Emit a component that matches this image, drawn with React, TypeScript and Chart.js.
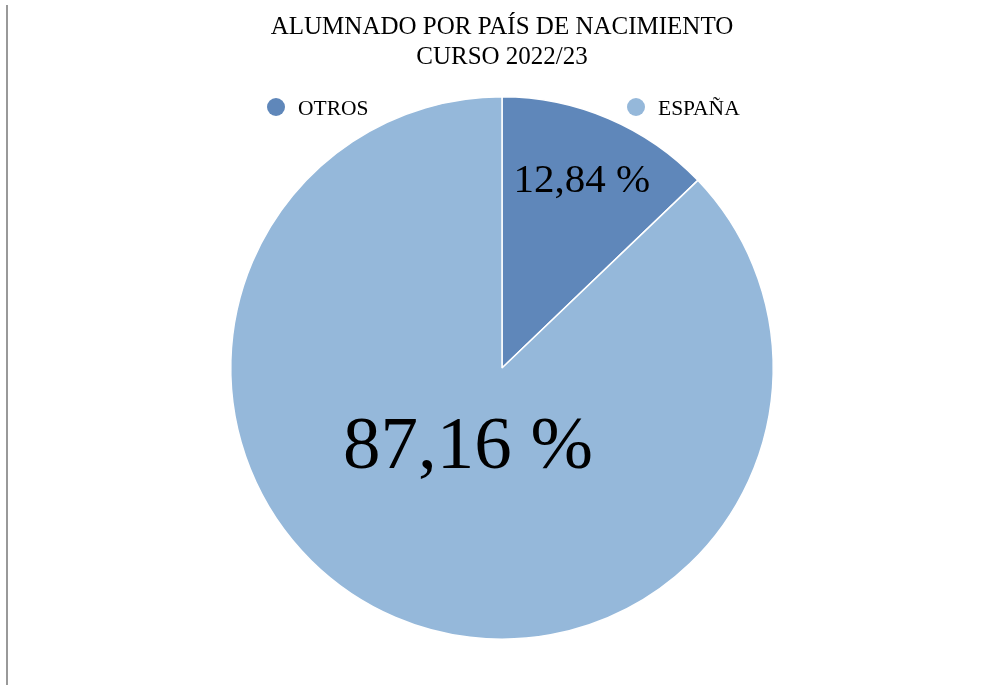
import React, { useEffect, useRef } from "react";
import { Chart, registerables } from "chart.js";

Chart.register(...registerables);

const titleLines = ["ALUMNADO POR PAÍS DE NACIMIENTO", "CURSO 2022/23"];
const categories = ["OTROS", "ESPAÑA"];
const values = [12.84, 87.16];
const valueLabels = ["12,84 %", "87,16 %"];
const colors = ["#5F87BA", "#95B8DA"];

const FONT = '"Liberation Serif", "DejaVu Serif", serif';

const overlayPlugin = {
  id: "overlay",
  afterDraw(chart: any) {
    const ctx = chart.ctx as CanvasRenderingContext2D;
    ctx.save();
    // left gray rule
    ctx.fillStyle = "#999999";
    ctx.fillRect(6, 5, 2, 680);

    // title
    ctx.fillStyle = "#000000";
    ctx.textAlign = "center";
    ctx.textBaseline = "alphabetic";
    ctx.font = `25px ${FONT}`;
    ctx.fillText(titleLines[0], 502, 34);
    ctx.fillText(titleLines[1], 502, 64);

    // legend
    const legendPos = [
      { cx: 276, tx: 298 },
      { cx: 636, tx: 658 },
    ];
    ctx.font = `21.5px ${FONT}`;
    ctx.textAlign = "left";
    categories.forEach((c, i) => {
      ctx.fillStyle = colors[i];
      ctx.beginPath();
      ctx.arc(legendPos[i].cx, 107, 9, 0, Math.PI * 2);
      ctx.fill();
      ctx.fillStyle = "#000000";
      ctx.fillText(c, legendPos[i].tx, 115);
    });

    // data labels
    const meta = chart.getDatasetMeta(0);
    const fracs = [0.75, 0.32];
    const sizes = [41, 75];
    ctx.textAlign = "center";
    ctx.textBaseline = "middle";
    meta.data.forEach((arc: any, i: number) => {
      const p = arc.getProps(["x", "y", "startAngle", "endAngle", "outerRadius"], true);
      const mid = (p.startAngle + p.endAngle) / 2;
      const r = p.outerRadius * fracs[i];
      const x = p.x + Math.cos(mid) * r;
      const y = p.y + Math.sin(mid) * r;
      ctx.font = `${sizes[i]}px ${FONT}`;
      ctx.fillStyle = "#000000";
      ctx.fillText(valueLabels[i], x, y);
    });
    ctx.restore();
  },
};

export default function App() {
  const ref = useRef<HTMLCanvasElement | null>(null);
  useEffect(() => {
    if (!ref.current) return;
    const chart = new Chart(ref.current, {
      type: "pie",
      data: {
        labels: categories,
        datasets: [
          {
            data: values,
            backgroundColor: colors,
            borderColor: "#ffffff",
            borderWidth: 1.5,
          },
        ],
      },
      options: {
        animation: false,
        responsive: false,
        layout: { padding: { top: 96, bottom: 45, left: 230, right: 211 } },
        plugins: {
          legend: { display: false },
          title: { display: false },
          tooltip: { enabled: false },
        },
      },
      plugins: [overlayPlugin],
    });
    return () => chart.destroy();
  }, []);
  return (
    <div style={{ position: "absolute", left: 0, top: 0, width: 985, height: 685, background: "#ffffff" }}>
      <canvas ref={ref} width={985} height={685} style={{ width: 985, height: 685 }} />
    </div>
  );
}
